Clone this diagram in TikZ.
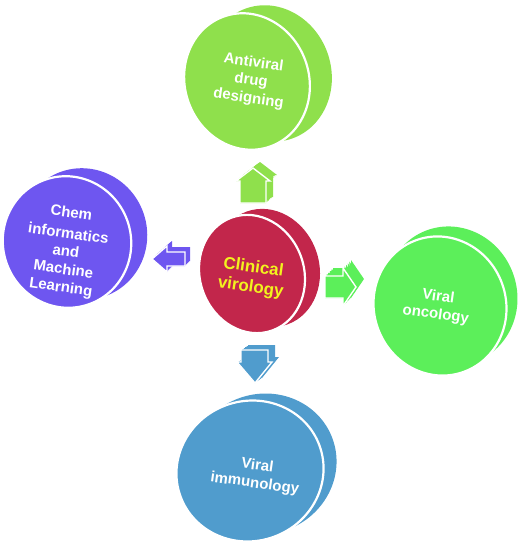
\documentclass[tikz,border=0pt]{standalone}
\usepackage{fontspec}
\setmainfont{Liberation Sans}
\usetikzlibrary{positioning}
\definecolor{vlime}{HTML}{8FE04C}
\definecolor{vgreen}{HTML}{5CEF5A}
\definecolor{vpurple}{HTML}{6E56F0}
\definecolor{vblue}{HTML}{509CCD}
\definecolor{vcrimson}{HTML}{C2264B}
\definecolor{vyellow}{HTML}{F2F21E}
\tikzset{
  % skivor
  face/.style={draw=white,line width=2.2pt},
  rim/.style={draw=white,line width=1.4pt},
  lbl/.style={align=center,inner sep=0pt,rotate=-8,text=white,
              font=\fontsize{15}{18}\selectfont\bfseries},
  lblc/.style={lbl,text=vyellow,font=\fontsize{17}{20}\selectfont\bfseries},
}
\begin{document}
\begin{tikzpicture}[x=1pt,y=-1pt]
\useasboundingbox (0,0) rectangle (520,544);
  % top
  \fill[vlime] (269,73.5) ellipse [x radius=62,y radius=69,rotate=20];
  \fill[vlime,face] (247,81.5) ellipse [x radius=62,y radius=69,rotate=20];
  % left
  \fill[vpurple] (83,234) ellipse [x radius=64,y radius=66,rotate=20];
  \fill[vpurple,face] (67,242) ellipse [x radius=64,y radius=66,rotate=20];
  % right
  \fill[vgreen] (451,296) ellipse [x radius=66,y radius=70,rotate=20];
  \fill[vgreen,face] (440,306) ellipse [x radius=66,y radius=70,rotate=20];
  % bottom
  \fill[vblue] (263,464) ellipse [x radius=74,y radius=70,rotate=20];
  \fill[vblue,face] (250,471) ellipse [x radius=74,y radius=70,rotate=20];
  % centre
  \fill[vcrimson] (267,268) ellipse [x radius=52,y radius=60,rotate=20];
  \fill[vcrimson,face] (252,274) ellipse [x radius=52,y radius=60,rotate=20];

  % pilar
  \foreach \t in {0,0.2,...,1}
    \fill[vlime,shift={(7*\t,-6*\t)}] (240,203) -- (240,181) -- (236,181) -- (253,168)
      -- (270,181) -- (266,181) -- (266,203) -- cycle;
  \fill[vlime,rim] (240,203) -- (240,181) -- (236,181) -- (253,168)
      -- (270,181) -- (266,181) -- (266,203) -- cycle;
  \foreach \t in {0,0.2,...,1}
    \fill[vpurple,shift={(5*\t,-5*\t)}] (152,259) -- (167,246) -- (167,252) -- (185,252)
      -- (185,266) -- (167,266) -- (167,272) -- cycle;
  \fill[vpurple,rim] (152,259) -- (167,246) -- (167,252) -- (185,252)
      -- (185,266) -- (167,266) -- (167,272) -- cycle;
  \foreach \t in {0,0.2,...,1}
    \fill[vgreen,shift={(8*\t,-8*\t)}] (325,276) -- (343,276) -- (343,268) -- (356,287)
      -- (343,306) -- (343,298) -- (325,298) -- cycle;
  \fill[vgreen,rim] (325,276) -- (343,276) -- (343,268) -- (356,287)
      -- (343,306) -- (343,298) -- (325,298) -- cycle;
  \foreach \t in {0,0.2,...,1}
    \fill[vblue,shift={(7*\t,-5*\t)}] (241,350) -- (268,350) -- (268,362) -- (272,362)
      -- (255,383) -- (237,362) -- (241,362) -- cycle;
  \fill[vblue,rim] (241,350) -- (268,350) -- (268,362) -- (272,362)
      -- (255,383) -- (237,362) -- (241,362) -- cycle;

  \node[lblc] (cv) at (252,278) {Clinical\\virology};
  \node[lbl] (adg) at (251,81) {Antiviral\\drug\\designing};
  \node[lbl] (cml) at (66,251) {Chem\\[3pt]informatics\\and\\Machine\\Learning};
  \node[lbl] (vonc) at (437,306) {Viral\\oncology};
  \node[lbl] (vimm) at (256,475) {Viral\\immunology};
\end{tikzpicture}
\end{document}
